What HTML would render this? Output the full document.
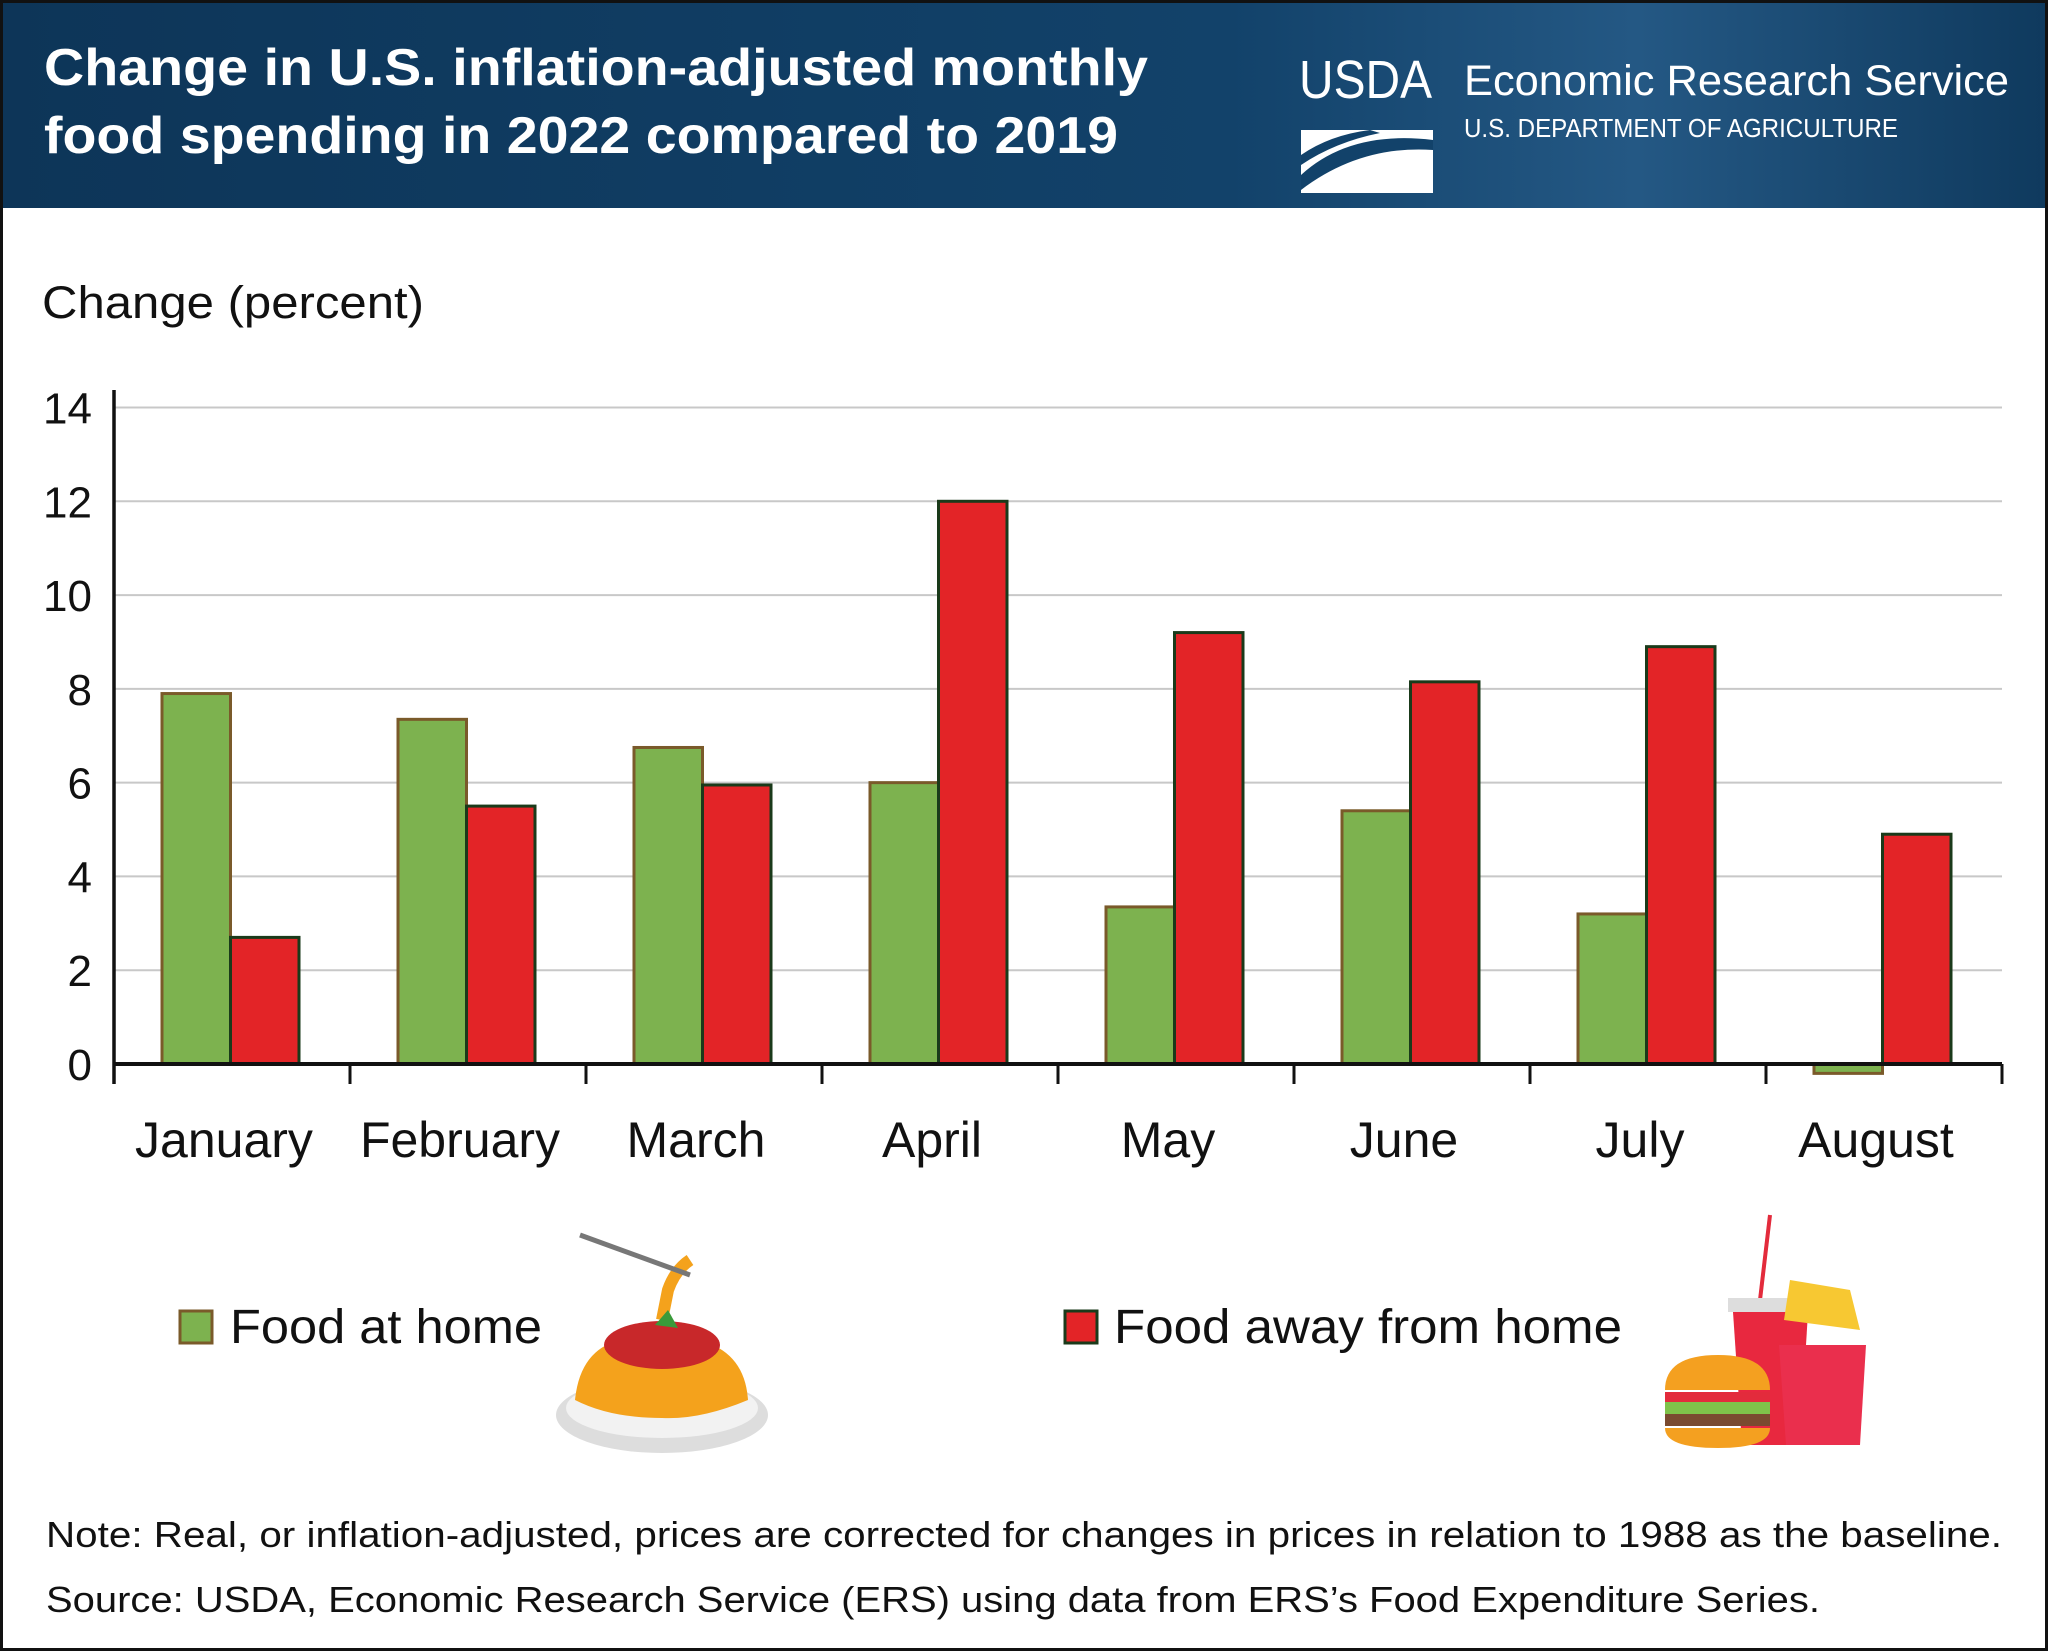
<!DOCTYPE html>
<html><head><meta charset="utf-8"><style>
html,body{margin:0;padding:0;background:#fff;}
svg{display:block;}
text{font-family:"Liberation Sans",sans-serif;}
</style></head><body>
<svg id="chart" width="2048" height="1651" viewBox="0 0 2048 1651" xmlns="http://www.w3.org/2000/svg">
<defs>
<linearGradient id="hdr" x1="0" y1="0" x2="1" y2="0">
<stop offset="0" stop-color="#0d3558"/><stop offset="0.6" stop-color="#12426a"/><stop offset="0.8" stop-color="#245884"/><stop offset="1" stop-color="#0f3a5e"/>
</linearGradient>
</defs>
<rect x="0" y="0" width="2048" height="1651" fill="#fff" stroke="#111" stroke-width="6"/>
<rect x="3" y="3" width="2042" height="205" fill="url(#hdr)"/>
<text x="44" y="85" fill="#fff" font-size="52" font-weight="bold" textLength="1104" lengthAdjust="spacingAndGlyphs">Change in U.S. inflation-adjusted monthly</text>
<text x="44" y="153" fill="#fff" font-size="52" font-weight="bold" textLength="1074" lengthAdjust="spacingAndGlyphs">food spending in 2022 compared to 2019</text>
<g>
<text x="1299" y="98" fill="#fff" font-size="54" font-family="Liberation Serif,serif" textLength="133" lengthAdjust="spacingAndGlyphs">USDA</text>
<rect x="1301" y="130" width="132" height="63" fill="#fff"/>
<path d="M1301 175 Q1350 130 1433 140 L1433 150 Q1360 145 1301 190 Z" fill="#12426a"/>
<path d="M1301 155 Q1330 135 1370 130 L1380 133 Q1335 142 1301 165 Z" fill="#12426a"/>
</g>
<text x="1464" y="95" fill="#fff" font-size="43" textLength="545" lengthAdjust="spacingAndGlyphs">Economic Research Service</text>
<text x="1464" y="137" fill="#fff" font-size="26" textLength="434" lengthAdjust="spacingAndGlyphs">U.S. DEPARTMENT OF AGRICULTURE</text>
<text x="42" y="318" fill="#111" font-size="45" textLength="382" lengthAdjust="spacingAndGlyphs">Change (percent)</text>
<g id="plot"></g>
<g>
<rect x="180" y="1311" width="32" height="32" fill="#7db24f" stroke="#7a5a2a" stroke-width="3"/>
<text x="230" y="1343" font-size="48" fill="#111" textLength="312" lengthAdjust="spacingAndGlyphs">Food at home</text>
<rect x="1065" y="1311" width="32" height="32" fill="#e32427" stroke="#1a3a1a" stroke-width="3"/>
<text x="1114" y="1343" font-size="48" fill="#111" textLength="508" lengthAdjust="spacingAndGlyphs">Food away from home</text>
</g>
<g>
<ellipse cx="662" cy="1415" rx="106" ry="38" fill="#ddd"/>
<ellipse cx="662" cy="1408" rx="96" ry="30" fill="#f2f2f2"/>
<path d="M575 1400 Q580 1350 620 1340 Q665 1320 705 1342 Q745 1355 748 1400 Q700 1420 662 1418 Q610 1418 575 1400 Z" fill="#f4a21c"/>
<ellipse cx="662" cy="1345" rx="58" ry="24" fill="#c8282a"/>
<path d="M662 1320 L668 1290 Q675 1270 690 1260" stroke="#f4a21c" stroke-width="12" fill="none"/>
<path d="M580 1235 L690 1275" stroke="#777" stroke-width="5"/>
<path d="M655 1325 L668 1310 L678 1328 Z" fill="#3a9a3a"/>
</g>
<g>
<line x1="1770" y1="1215" x2="1760" y2="1300" stroke="#e32b3c" stroke-width="4"/>
<rect x="1728" y="1298" width="85" height="14" fill="#ddd"/>
<path d="M1733 1312 L1808 1312 L1800 1445 L1742 1445 Z" fill="#e8283f"/>
<path d="M1784 1320 L1790 1280 L1850 1290 L1860 1330 Z" fill="#f7c832"/>
<path d="M1779 1345 L1866 1345 L1860 1445 L1786 1445 Z" fill="#ea2f4d"/>
<path d="M1665 1390 Q1665 1355 1718 1355 Q1770 1355 1770 1390 Z" fill="#f4a020"/>
<rect x="1665" y="1392" width="105" height="10" fill="#e32b3c"/>
<rect x="1665" y="1402" width="105" height="12" fill="#7fc24a"/>
<rect x="1665" y="1414" width="105" height="12" fill="#7a4a30"/>
<path d="M1665 1428 L1770 1428 Q1770 1448 1718 1448 Q1665 1448 1665 1428 Z" fill="#f4a020"/>
</g>
<text x="46" y="1547" font-size="36" fill="#111" textLength="1956" lengthAdjust="spacingAndGlyphs">Note: Real, or inflation-adjusted, prices are corrected for changes in prices in relation to 1988 as the baseline.</text>
<text x="46" y="1612" font-size="36" fill="#111" textLength="1774" lengthAdjust="spacingAndGlyphs">Source: USDA, Economic Research Service (ERS) using data from ERS’s Food Expenditure Series.</text>
</svg>
<script>
const categories = ["January","February","March","April","May","June","July","August"];
const foodAtHome = [7.9, 7.35, 6.75, 6.0, 3.35, 5.4, 3.2, -0.2];
const foodAway = [2.7, 5.5, 5.95, 12.0, 9.2, 8.15, 8.9, 4.9];
const yTicks = [0, 2, 4, 6, 8, 10, 12, 14];

const NS = "http://www.w3.org/2000/svg";
const plot = document.getElementById("plot");
const X0 = 114, X1 = 2002, Y0 = 1064, YTOP = 407.5, YMAX = 14;
const bandW = (X1 - X0) / categories.length;
const barW = 68.5, groupOff = 48;
function y(v){ return Y0 - (v / YMAX) * (Y0 - YTOP); }
function xBand(i){ return X0 + i * bandW; }
function mk(tag, attrs){ const e = document.createElementNS(NS, tag); for (const k in attrs) e.setAttribute(k, attrs[k]); plot.appendChild(e); return e; }

yTicks.forEach(t => {
  if (t > 0) {
    const g = mk("line", {x1: X0, x2: X1, y1: y(t), y2: y(t), stroke: "#c8c8c8", "stroke-width": 2});
    
    
  }
  const tl = mk("text", {x: 92, y: y(t) + 16, "text-anchor": "end", "font-size": 44, fill: "#111"});
  tl.textContent = t;
  
  
});

categories.forEach((c, i) => {
  const bx = xBand(i) + groupOff;
  const hv = foodAtHome[i];
  const g = mk("rect", {x: bx, y: Math.min(y(hv), y(0)), width: barW, height: Math.abs(y(hv) - y(0)), fill: "#7db24f", stroke: "#7a5a2a", "stroke-width": 3});
  
  
  const av = foodAway[i];
  const r = mk("rect", {x: bx + barW, y: Math.min(y(av), y(0)), width: barW, height: Math.abs(y(av) - y(0)), fill: "#e32427", stroke: "#1a3a1a", "stroke-width": 3});
  
  
  const lbl = mk("text", {x: xBand(i) + bandW / 2 - 8, y: 1157, "text-anchor": "middle", "font-size": 50, fill: "#111"});
  lbl.textContent = c;
  
  
});

for (let i = 0; i <= categories.length; i++) {
  const tk = mk("line", {x1: xBand(i), x2: xBand(i), y1: Y0, y2: Y0 + 20, stroke: "#111", "stroke-width": 3});
  
  
}
const ya = mk("line", {x1: X0, x2: X0, y1: 390, y2: Y0 + 20, stroke: "#111", "stroke-width": 3.5});


const xa = mk("line", {x1: X0, x2: X1, y1: Y0, y2: Y0, stroke: "#111", "stroke-width": 4});


</script>
</body></html>
